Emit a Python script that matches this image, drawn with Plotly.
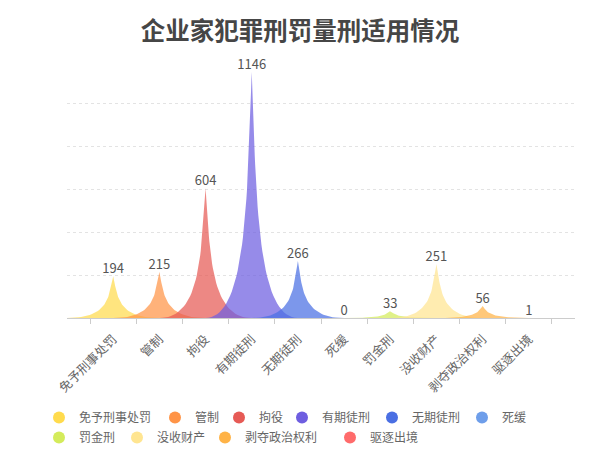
import numpy as np
import plotly.graph_objects as go

categories = ["免予刑事处罚", "管制", "拘役", "有期徒刑", "无期徒刑", "死缓",
              "罚金刑", "没收财产", "剥夺政治权利", "驱逐出境"]
values = [194, 215, 604, 1146, 266, 0, 33, 251, 56, 1]
colors = ["#FFDB4D", "#FF9447", "#E65A55", "#6E5EE0", "#4A6FE3", "#6E9EEA",
          "#D4EB5B", "#FFE591", "#FFB347", "#FF6B6B"]
title_text = "企业家犯罪刑罚量刑适用情况"

FONT = "Noto Sans CJK SC"

# legend item icon positions in pixels (layout only)
legend_icon_px = [62, 178, 242, 305, 395, 485, 62, 140, 228, 353]
legend_row_px = [403, 403, 403, 403, 403, 403, 423, 423, 423, 423]

L, R, T, B = 67, 25, 60, 152
W, H = 600, 470
PW, PH = W - L - R, H - T - B


def hex_rgba(h, a):
    h = h.lstrip("#")
    r, g, b = int(h[0:2], 16), int(h[2:4], 16), int(h[4:6], 16)
    return f"rgba({r},{g},{b},{a})"


def bezier(p0, p1, p2, p3, n=40):
    t = np.linspace(0, 1, n)[:, None]
    p0, p1, p2, p3 = map(np.array, (p0, p1, p2, p3))
    return ((1 - t) ** 3) * p0 + 3 * ((1 - t) ** 2) * t * p1 + 3 * (1 - t) * t ** 2 * p2 + t ** 3 * p3


# normalized peak outline (y up): base right -> tip -> base left
right = bezier((1, 0), (0.55, 0), (0.55, 0.5), (0.5, 1))
left = bezier((0.5, 1), (0.45, 0.5), (0.45, 0), (0, 0))
outline = np.vstack([[(0, 0)], right, left])

fig = go.Figure()
half = 1.0
for i, (cat, v, c) in enumerate(zip(categories, values, colors)):
    xs = i - half + 2 * half * outline[:, 0]
    ys = v * outline[:, 1]
    fig.add_trace(go.Scatter(x=xs, y=ys, mode="lines", fill="toself",
                             fillcolor=hex_rgba(c, 0.72), line=dict(width=0),
                             hoverinfo="skip", showlegend=False))

# value labels
fig.add_trace(go.Scatter(x=list(range(len(values))), y=values, mode="text",
                         text=[str(v) for v in values], textposition="top center",
                         textfont=dict(family=FONT, size=13, color="#555"),
                         cliponaxis=False, hoverinfo="skip", showlegend=False))

# legend entries, each in its own legend box for precise placement
legend_layouts = {}
for k, (cat, c) in enumerate(zip(categories, colors)):
    lname = "legend" if k == 0 else f"legend{k + 1}"
    fig.add_trace(go.Scatter(x=[None], y=[None], mode="markers", name=cat,
                             legend=lname,
                             marker=dict(symbol="circle", size=12, color=c)))
    legend_layouts[lname] = dict(
        orientation="h", xanchor="left", yanchor="top",
        x=(legend_icon_px[k] - 23 - L) / PW,
        y=(H - B - legend_row_px[k]) / PH,
        font=dict(family=FONT, size=12, color="#666"),
        itemclick=False, itemdoubleclick=False, bgcolor="rgba(0,0,0,0)")

fig.update_layout(
    width=W, height=H,
    margin=dict(l=L, r=R, t=T, b=B, autoexpand=False),
    paper_bgcolor="white", plot_bgcolor="white",
    font=dict(family=FONT, size=12, color="#666"),
    title=dict(text="<b>" + title_text + "</b>", x=0.5, xanchor="center",
               y=1 - 31 / 470, yanchor="middle", yref="container",
               font=dict(family=FONT, size=24.5, color="#464646")),
    xaxis=dict(range=[-1, 10], tickmode="array", tickvals=list(range(len(categories))),
               ticktext=categories, tickangle=-45, ticks="", showgrid=False,
               zeroline=False, showline=True, linecolor="#ccc", linewidth=1,
               automargin=False, ticklabelstandoff=8,
               tickfont=dict(family=FONT, size=12.5, color="#666"),
               minor=dict(tick0=-0.5, dtick=1, ticks="outside", ticklen=5,
                          tickcolor="#ccc", showgrid=False),
               fixedrange=True),
    yaxis=dict(range=[0, 1202], tickmode="array", tickvals=[200, 400, 600, 800, 1000, 1200],
               showticklabels=False, showgrid=True,
               gridcolor="#e3e3e3", griddash="dot", zeroline=False, showline=False,
               automargin=False, fixedrange=True),
    **legend_layouts,
)

fig.write_html("out.html", config={"displayModeBar": False},
               post_script="document.body.style.margin='0';")
